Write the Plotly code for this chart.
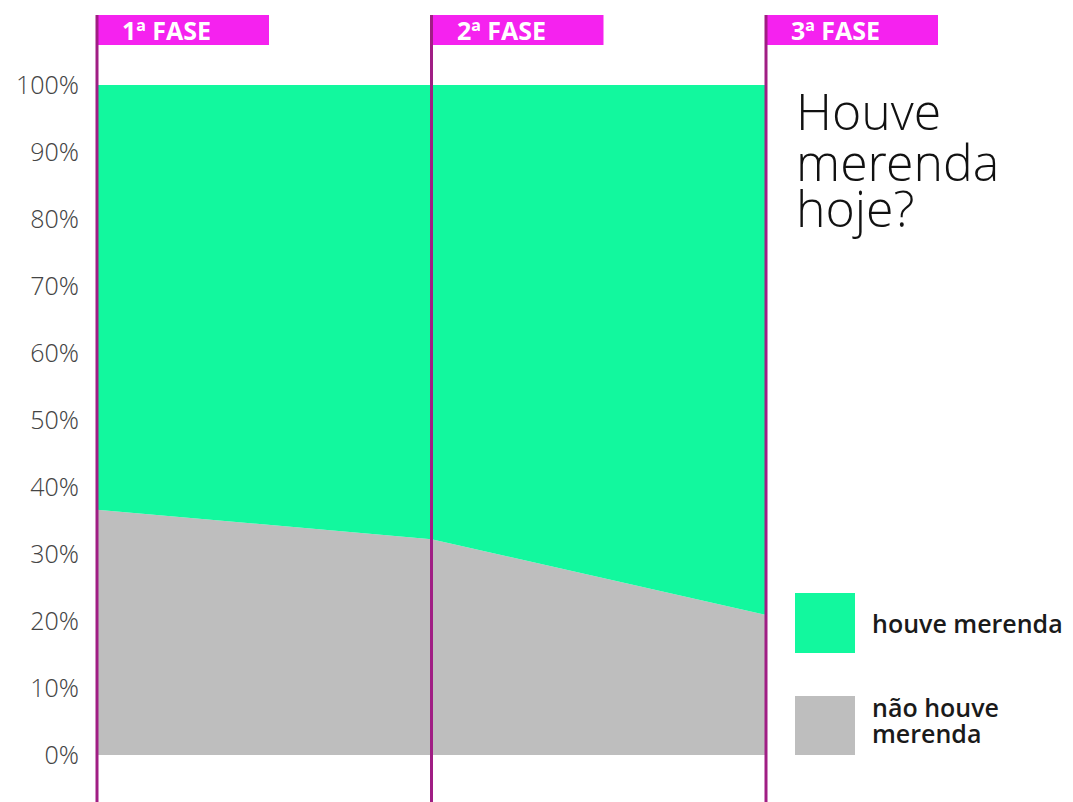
import plotly.graph_objects as go

# Data: share of school visits where lunch was / was not served, by survey phase
fases = ["1ª FASE", "2ª FASE", "3ª FASE"]
nao_houve = [36.6, 32.2, 20.9]
houve = [round(100 - v, 1) for v in nao_houve]
y_ticks = [0, 10, 20, 30, 40, 50, 60, 70, 80, 90, 100]

COR_HOUVE = "#12F89E"
COR_NAO = "#BEBEBE"
COR_LINHA = "#A01E84"
COR_FASE = "#F522EF"
FONTE_LEVE = "Open Sans Light, Lato Light, Open Sans"

W, H = 1073, 802
M = dict(l=97, r=307, t=85, b=47)
plot_w = W - M["l"] - M["r"]
plot_h = H - M["t"] - M["b"]


def px_x(px):
    """Convert a horizontal pixel position to paper coordinates."""
    return (px - M["l"]) / plot_w


def px_y(px):
    """Convert a vertical pixel position (from top) to paper coordinates."""
    return (H - M["b"] - px) / plot_h


x_idx = list(range(len(fases)))

fig = go.Figure()
fig.add_trace(go.Scatter(
    x=x_idx, y=nao_houve, name="não houve merenda",
    stackgroup="one", mode="lines", line=dict(width=0, color=COR_NAO),
    fillcolor=COR_NAO, hoverinfo="skip",
))
fig.add_trace(go.Scatter(
    x=x_idx, y=houve, name="houve merenda",
    stackgroup="one", mode="lines", line=dict(width=0, color=COR_HOUVE),
    fillcolor=COR_HOUVE, hoverinfo="skip",
))

shapes = []
annotations = []
n = len(fases)
box_w = 172 / plot_w
for i, fase in enumerate(fases):
    xp = i / (n - 1)
    # phase header box
    shapes.append(dict(type="rect", xref="paper", yref="paper",
                       x0=xp, x1=xp + box_w, y0=px_y(45), y1=px_y(15),
                       fillcolor=COR_FASE, line=dict(width=0), layer="above"))
    # phase divider line
    shapes.append(dict(type="line", xref="paper", yref="paper",
                       x0=xp, x1=xp, y0=px_y(H), y1=px_y(15),
                       line=dict(color=COR_LINHA, width=3), layer="above"))
    annotations.append(dict(text=fase, xref="paper", yref="paper",
                            x=xp + 23 / plot_w, y=px_y(30),
                            xanchor="left", yanchor="middle", showarrow=False,
                            font=dict(family="Open Sans", size=25, color="white",
                                      weight="bold")))

# title, one line per annotation for tight leading
for txt, cy in [("Houve", 111), ("merenda", 162), ("hoje?", 208)]:
    annotations.append(dict(text=txt, xref="paper", yref="paper",
                            x=px_x(794), y=px_y(cy), xanchor="left",
                            yanchor="middle", showarrow=False,
                            font=dict(family=FONTE_LEVE, size=50, color="#111",
                                      weight=300)))

# legend swatches and labels
shapes.append(dict(type="rect", xref="paper", yref="paper",
                   x0=px_x(795), x1=px_x(855), y0=px_y(653), y1=px_y(593),
                   fillcolor=COR_HOUVE, line=dict(width=0)))
shapes.append(dict(type="rect", xref="paper", yref="paper",
                   x0=px_x(795), x1=px_x(855), y0=px_y(755), y1=px_y(696),
                   fillcolor=COR_NAO, line=dict(width=0)))
leg_font = dict(family="Open Sans", size=25, color="#1a1a1a", weight=600)
for txt, cy in [("houve merenda", 623), ("não houve", 707), ("merenda", 733)]:
    annotations.append(dict(text=txt, xref="paper", yref="paper",
                            x=px_x(870), y=px_y(cy), xanchor="left",
                            yanchor="middle", showarrow=False, font=leg_font))

fig.update_layout(
    width=W, height=H, margin=M,
    paper_bgcolor="white", plot_bgcolor="white",
    showlegend=False,
    shapes=shapes, annotations=annotations,
    xaxis=dict(range=[0, n - 1], visible=False, fixedrange=True),
    yaxis=dict(range=[0, 100], tickvals=y_ticks,
               ticktext=[f"{v}%" for v in y_ticks],
               showgrid=False, zeroline=False, showline=False,
               ticks="outside", ticklen=12, tickcolor="rgba(0,0,0,0)",
               tickfont=dict(family=FONTE_LEVE, size=25, color="#444",
                             weight=300),
               fixedrange=True),
)

fig.write_html("out.html")
